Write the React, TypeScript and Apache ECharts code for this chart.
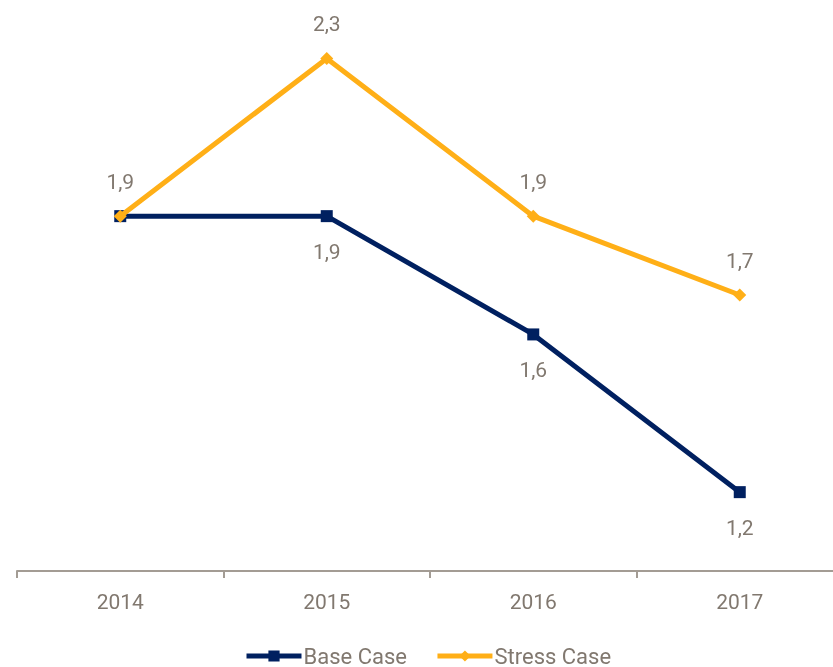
import React, { useEffect, useRef } from "react";
import * as echarts from "echarts";

const categories = ["2014", "2015", "2016", "2017"];
const baseCase = [1.9, 1.9, 1.6, 1.2];
const stressCase = [1.9, 2.3, 1.9, 1.7];
const baseLabelShown = [false, true, true, true];

const NAVY = "#002060";
const ORANGE = "#FFAF17";
const GREY = "#81786f";
const FONT = "Roboto";

export default function App() {
  const ref = useRef<HTMLDivElement>(null);
  useEffect(() => {
    if (!ref.current) return;
    const chart = echarts.init(ref.current, null, { renderer: "svg" });
    const fmt = (p: any) => String(p.value).replace(".", ",");
    chart.setOption({
      animation: false,
      grid: { left: 17, width: 826, top: 19, height: 552 },
      xAxis: {
        type: "category",
        data: categories,
        boundaryGap: true,
        axisLine: { lineStyle: { color: "#a39c94", width: 2 } },
        axisTick: { show: true, length: 7, lineStyle: { color: "#a39c94", width: 2 } },
        axisLabel: { color: GREY, fontSize: 21, fontFamily: FONT, margin: 20 },
      },
      yAxis: {
        type: "value",
        min: 1.0,
        max: 2.4,
        show: false,
        splitLine: { show: false },
      },
      legend: {
        top: 640,
        left: 239,
        itemWidth: 55,
        itemHeight: 14,
        itemGap: 28,
        lineStyle: { width: 5 },
        textStyle: { color: GREY, fontSize: 22, fontFamily: FONT, padding: [0, 0, 0, -3] },
        data: ["Base Case", "Stress Case"],
      },
      series: [
        {
          name: "Base Case",
          type: "line",
          data: baseCase.map((v, i) => ({ value: v, label: { show: baseLabelShown[i] } })),
          symbol: "rect",
          symbolSize: 12,
          lineStyle: { color: NAVY, width: 5 },
          itemStyle: { color: NAVY },
          label: {
            show: true,
            position: "bottom",
            distance: 19,
            color: GREY,
            fontSize: 21,
            fontFamily: FONT,
            formatter: fmt,
          },
          z: 2,
        },
        {
          name: "Stress Case",
          type: "line",
          data: stressCase,
          symbol: "diamond",
          symbolSize: 13,
          lineStyle: { color: ORANGE, width: 5 },
          itemStyle: { color: ORANGE },
          label: {
            show: true,
            position: "top",
            distance: 17,
            color: GREY,
            fontSize: 21,
            fontFamily: FONT,
            formatter: fmt,
          },
          z: 3,
        },
      ],
    });
    return () => chart.dispose();
  }, []);
  return (
    <div style={{ position: "fixed", left: 0, top: 0, width: 833, height: 667, overflow: "hidden" }}>
      <div ref={ref} style={{ width: 860, height: 667 }} />
    </div>
  );
}
